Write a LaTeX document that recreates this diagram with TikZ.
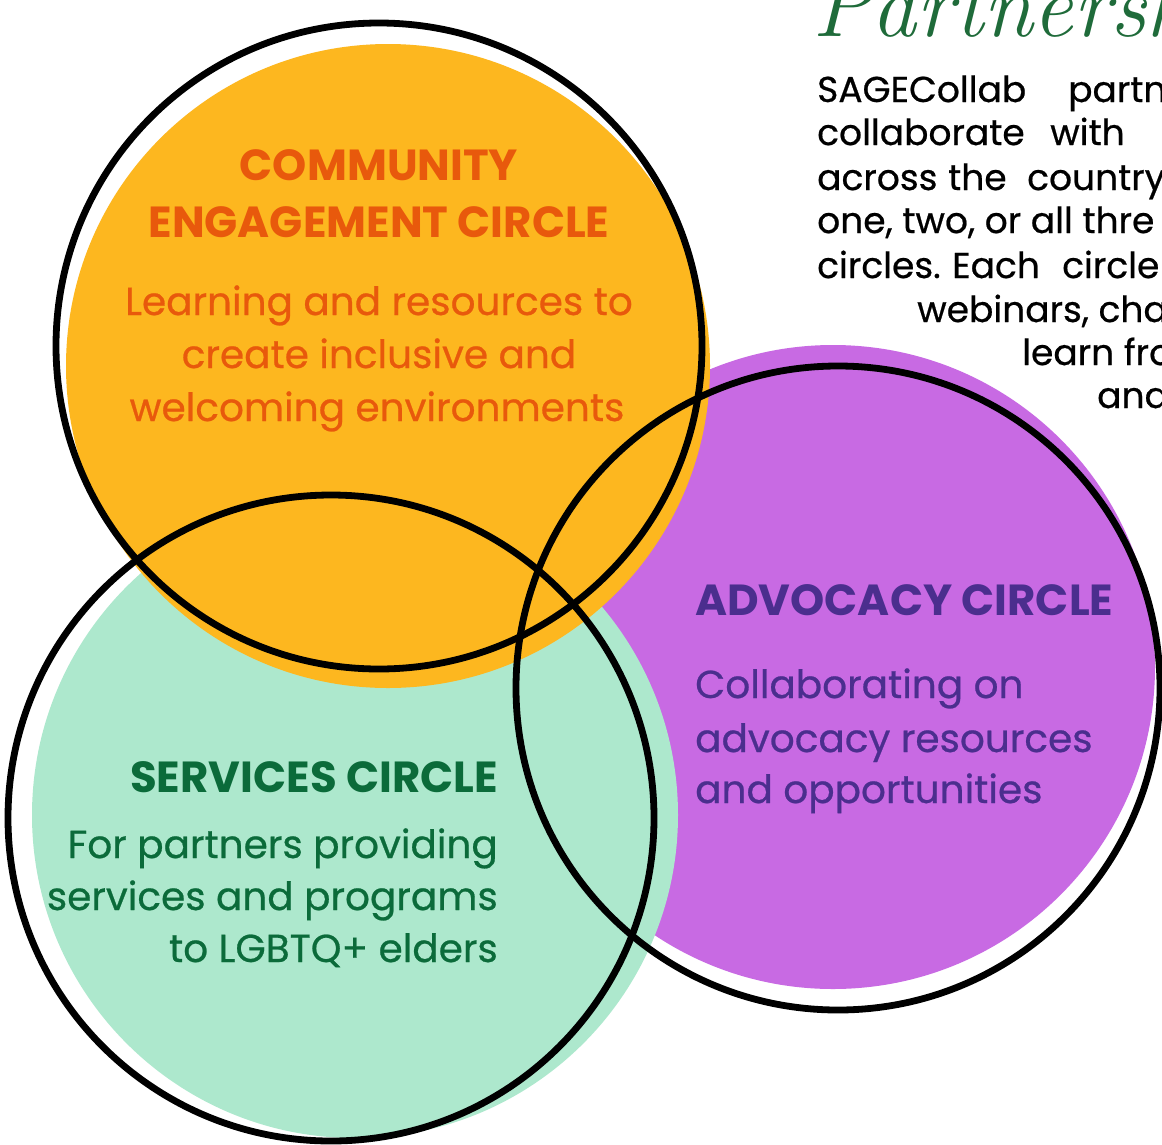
\documentclass[tikz,border=0pt]{standalone}
\usepackage{fontspec}
\setmainfont{Poppins}
\newfontfamily\medfont{Poppins}[FakeBold=0.6]
\definecolor{orangeF}{HTML}{FDB71F}
\definecolor{orangeT}{HTML}{E8590C}
\definecolor{greenF}{HTML}{ADE8CD}
\definecolor{greenT}{HTML}{0B6B3A}
\definecolor{purpleF}{HTML}{C86AE3}
\definecolor{purpleT}{HTML}{4B2E8E}
\definecolor{scriptG}{HTML}{1F6B3A}
\tikzset{
  ring/.style={draw=black, line width=6.8pt},
  ttl/.style={inner sep=0pt, font=\fontsize{43.5}{50}\selectfont\bfseries},
  bdy/.style={inner sep=0pt, font=\medfont\fontsize{39}{46}\selectfont},
  para/.style={inner sep=0pt, anchor=base west, text=black, font=\medfont\fontsize{36}{43}\selectfont},
  script/.style={inner sep=0pt, anchor=base west, text=scriptG, font=\fontspec{Latin Modern Roman}\fontsize{90}{100}\selectfont\itshape}
}
\begin{document}
\begin{tikzpicture}[x=1pt,y=-1pt]
\useasboundingbox (0,0) rectangle (1162,1144);
\fill[white] (0,0) rectangle (1162,1144);
\clip (0,0) rectangle (1162,1144);
% fills
\fill[purpleF] (833,667) circle[radius=322pt];
\fill[greenF] (355,815) circle[radius=323pt];
\fill[orangeF] (388,366) circle[radius=322pt];
% outlines
\draw[ring] (379,346) circle[radius=323pt];
\draw[ring] (331,818) circle[radius=323pt];
\draw[ring] (838,688) circle[radius=322pt];
% community
\node[ttl, text=orangeT, anchor=base] (ce1) at (379,180) {COMMUNITY};
\node[ttl, text=orangeT, anchor=base] (ce2) at (379,237) {ENGAGEMENT CIRCLE};
\node[bdy, text=orangeT, anchor=base] (ce3) at (379,315) {Learning and resources to};
\node[bdy, text=orangeT, anchor=base] (ce4) at (379,368) {create inclusive and};
\node[bdy, text=orangeT, anchor=base] (ce5) at (377,421) {welcoming environments};
% services
\node[ttl, text=greenT, anchor=base east] (sv1) at (498,792) {SERVICES CIRCLE};
\node[bdy, text=greenT, anchor=base east] (sv2) at (498,858) {For partners providing};
\node[bdy, text=greenT, anchor=base east] (sv3) at (498,910) {services and programs};
\node[bdy, text=greenT, anchor=base east] (sv4) at (498,962) {to LGBTQ+ elders};
% advocacy
\node[ttl, text=purpleT, anchor=base west] (ad1) at (695,615) {ADVOCACY CIRCLE};
\node[bdy, text=purpleT, anchor=base west] (ad2) at (695,698) {Collaborating on};
\node[bdy, text=purpleT, anchor=base west] (ad3) at (695,752) {advocacy resources};
\node[bdy, text=purpleT, anchor=base west] (ad4) at (695,803) {and opportunities};
% title (cropped by the picture's edge, as in the reference)
\node[script] (title) at (812,36) {Partnersh};
% paragraph (cropped at the right edge, as in the reference)
\node[para] (p1a) at (817,102) {SAGECollab};
\node[para] (p1b) at (1068,102) {partn};
\node[para] (p2a) at (817,145) {collaborate};
\node[para] (p2b) at (1050,145) {with};
\node[para] (p3a) at (817,190) {across};
\node[para] (p3b) at (948,190) {the};
\node[para] (p3c) at (1027,190) {country};
\node[para] (p4) at (817,233) {one, two, or all thre};
\node[para] (p5a) at (817,278) {circles.};
\node[para] (p5b) at (952,278) {Each};
\node[para] (p5c) at (1062,278) {circle};
\node[para] (p6) at (917,322) {webinars, cha};
\node[para] (p7) at (1022,365) {learn fro};
\node[para] (p8) at (1097,408) {and};
\end{tikzpicture}
\end{document}
